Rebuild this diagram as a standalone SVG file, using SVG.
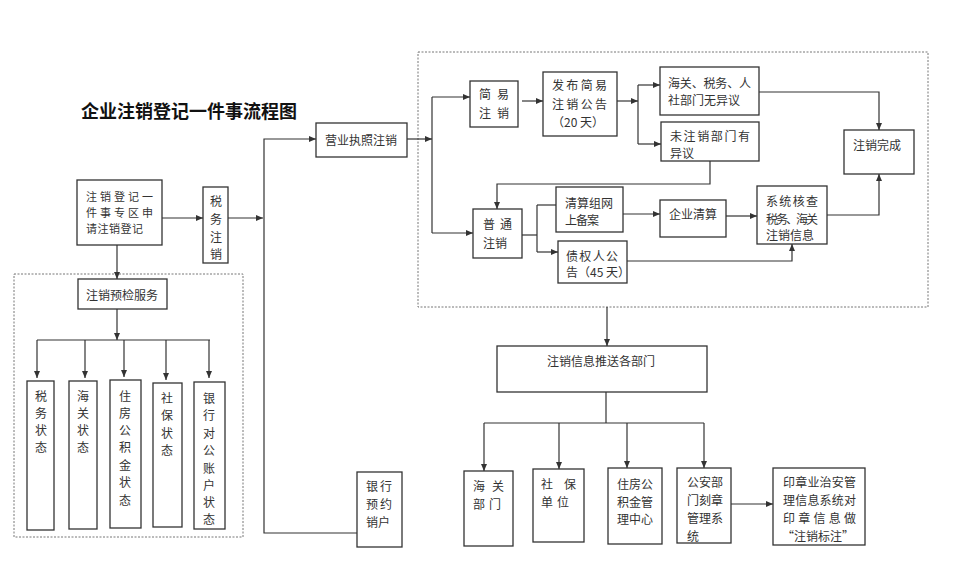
<svg xmlns="http://www.w3.org/2000/svg" width="954" height="586" viewBox="0 0 954 586">
<style>
.box{fill:#fff;stroke:#333;stroke-width:1.3}
.ln{fill:none;stroke:#333;stroke-width:1.2}
.dash{fill:none;stroke:#777;stroke-width:1;stroke-dasharray:2 1.5}
text{font-family:"Noto Sans CJK SC","Noto Sans CJK JP",sans-serif;font-size:12px;fill:#333;dominant-baseline:central}
.v{text-anchor:middle}
.sm{font-size:11px}
.title{font-size:18px;font-weight:bold;fill:#111}
</style>
<defs>
<marker id="ar" markerUnits="userSpaceOnUse" markerWidth="7" markerHeight="6" refX="7" refY="3" orient="auto">
<path d="M0,0 L7,3 L0,6 z" fill="#333"/>
</marker>
</defs>
<rect width="954" height="586" fill="#fff"/>
<text class="title" x="81" y="110">企业注销登记一件事流程图</text>
<rect class="dash" x="418" y="52" width="510" height="255"/>
<rect class="dash" x="14" y="274" width="229" height="263"/>
<g id="connectors" class="ln">
<path d="M162,218 H203" marker-end="url(#ar)"/>
<path d="M228,218 H263" marker-end="url(#ar)"/>
<path d="M357,533 H264 V139 H316" marker-end="url(#ar)"/>
<path d="M407,139 H432" marker-end="url(#ar)"/>
<path d="M432,97 V233"/>
<path d="M432,97 H470" marker-end="url(#ar)"/>
<path d="M432,233 H473" marker-end="url(#ar)"/>
<path d="M522,101 H543" marker-end="url(#ar)"/>
<path d="M617,101 H638" marker-end="url(#ar)"/>
<path d="M638,85 V144"/>
<path d="M638,85 H660" marker-end="url(#ar)"/>
<path d="M638,144 H661" marker-end="url(#ar)"/>
<path d="M759,92 H879 V130" marker-end="url(#ar)"/>
<path d="M710,161 V184 H497 V209" marker-end="url(#ar)"/>
<path d="M522,235 H537"/>
<path d="M537,205 V252"/>
<path d="M537,205 H556"/>
<path d="M537,252 H558" marker-end="url(#ar)"/>
<path d="M623,214 H660" marker-end="url(#ar)"/>
<path d="M726,216 H757" marker-end="url(#ar)"/>
<path d="M627,261 H792 V244" marker-end="url(#ar)"/>
<path d="M827,215 H879 V174" marker-end="url(#ar)"/>
<path d="M607,307 V346" marker-end="url(#ar)"/>
<path d="M606,392 V423"/>
<path d="M484,423 H704"/>
<path d="M484,423 V471" marker-end="url(#ar)"/>
<path d="M559,423 V469" marker-end="url(#ar)"/>
<path d="M627,423 V468" marker-end="url(#ar)"/>
<path d="M704,423 V468" marker-end="url(#ar)"/>
<path d="M731,504 H773" marker-end="url(#ar)"/>
<path d="M117,245 V279" marker-end="url(#ar)"/>
<path d="M117,309 V340" marker-end="url(#ar)"/>
<path d="M37,340 H210"/>
<path d="M37,340 V378" marker-end="url(#ar)"/>
<path d="M85,340 V378" marker-end="url(#ar)"/>
<path d="M124,340 V377" marker-end="url(#ar)"/>
<path d="M166,340 V380" marker-end="url(#ar)"/>
<path d="M209,340 V378" marker-end="url(#ar)"/>
</g>
<g id="reg"><rect class="box" x="77" y="180" width="85" height="65"/>
<text class="sm" x="86" y="196" textLength="67" lengthAdjust="spacing">注销登记一</text>
<text class="sm" x="86" y="212" textLength="67" lengthAdjust="spacing">件事专区申</text>
<text class="sm" x="86" y="228" textLength="57" lengthAdjust="spacing">请注销登记</text></g>
<g id="tax"><rect class="box" x="203" y="187" width="25" height="76"/>
<text class="v"><tspan x="216" y="200">税</tspan><tspan x="216" y="218">务</tspan><tspan x="216" y="236">注</tspan><tspan x="216" y="253">销</tspan></text></g>
<g id="license"><rect class="box" x="316" y="123" width="91" height="34"/>
<text class="v" x="361" y="139">营业执照注销</text></g>
<g id="bank"><rect class="box" x="357" y="472" width="45" height="75"/>
<text x="366" y="485" textLength="26" lengthAdjust="spacing">银行</text>
<text x="366" y="503" textLength="26" lengthAdjust="spacing">预约</text>
<text x="366" y="521">销户</text></g>
<g id="simple"><rect class="box" x="470" y="81" width="48" height="46"/>
<text x="479" y="93" textLength="30" lengthAdjust="spacing">简易</text>
<text x="479" y="112" textLength="30" lengthAdjust="spacing">注销</text></g>
<g id="announce"><rect class="box" x="543" y="72" width="74" height="64"/>
<text x="552" y="84" textLength="55" lengthAdjust="spacing">发布简易</text>
<text x="552" y="103" textLength="55" lengthAdjust="spacing">注销公告</text>
<text x="552" y="121">（20 天）</text></g>
<g id="noobj"><rect class="box" x="660" y="67" width="99" height="48"/>
<text x="668" y="82" textLength="83" lengthAdjust="spacing">海关、税务、人</text>
<text x="668" y="99">社部门无异议</text></g>
<g id="obj"><rect class="box" x="661" y="122" width="98" height="39"/>
<text x="670" y="135" textLength="80" lengthAdjust="spacing">未注销部门有</text>
<text x="670" y="152">异议</text></g>
<g id="normal"><rect class="box" x="473" y="209" width="49" height="49"/>
<text x="483" y="223" textLength="29" lengthAdjust="spacing">普通</text>
<text x="483" y="242">注销</text></g>
<g id="filing"><rect class="box" x="556" y="187" width="67" height="45"/>
<text x="565" y="202" textLength="48" lengthAdjust="spacing">清算组网</text>
<text x="565" y="219" textLength="34" lengthAdjust="spacing">上备案</text></g>
<g id="liquid"><rect class="box" x="660" y="200" width="66" height="37"/>
<text x="669" y="213">企业清算</text></g>
<g id="creditor"><rect class="box" x="558" y="241" width="69" height="42"/>
<text x="566" y="255" textLength="52" lengthAdjust="spacing">债权人公</text>
<text x="566" y="271">告（45 天）</text></g>
<g id="syscheck"><rect class="box" x="757" y="186" width="70" height="58"/>
<text x="766" y="200" textLength="52" lengthAdjust="spacing">系统核查</text>
<text x="766" y="218" textLength="52" lengthAdjust="spacing">税务、海关</text>
<text x="766" y="234">注销信息</text></g>
<g id="done"><rect class="box" x="844" y="130" width="70" height="44"/>
<text x="853" y="144">注销完成</text></g>
<g id="push"><rect class="box" x="497" y="346" width="210" height="46"/>
<text class="v" x="601" y="360">注销信息推送各部门</text></g>
<g id="customs"><rect class="box" x="464" y="471" width="49" height="75"/>
<text x="473" y="485" textLength="31" lengthAdjust="spacing">海关</text>
<text x="473" y="503" textLength="28" lengthAdjust="spacing">部门</text></g>
<g id="social"><rect class="box" x="533" y="469" width="51" height="73"/>
<text x="541" y="483" textLength="35" lengthAdjust="spacing">社保</text>
<text x="541" y="501" textLength="28" lengthAdjust="spacing">单位</text></g>
<g id="fund"><rect class="box" x="608" y="468" width="54" height="76"/>
<text x="617" y="483">住房公</text>
<text x="617" y="501">积金管</text>
<text x="617" y="518">理中心</text></g>
<g id="police"><rect class="box" x="677" y="468" width="54" height="75"/>
<text x="687" y="481">公安部</text>
<text x="687" y="499">门刻章</text>
<text x="687" y="517">管理系</text>
<text x="687" y="535">统</text></g>
<g id="seal"><rect class="box" x="773" y="468" width="92" height="77"/>
<text x="783" y="481" textLength="73" lengthAdjust="spacing">印章业治安管</text>
<text x="783" y="499" textLength="73" lengthAdjust="spacing">理信息系统对</text>
<text x="783" y="517" textLength="73" lengthAdjust="spacing">印章信息做</text>
<text class="v" x="818" y="535">“注销标注”</text></g>
<g id="precheck"><rect class="box" x="78" y="279" width="89" height="30"/>
<text class="v" x="122" y="294">注销预检服务</text></g>
<g id="s-tax"><rect class="box" x="27" y="381" width="27" height="149"/>
<text class="v"><tspan x="41" y="395">税</tspan><tspan x="41" y="412">务</tspan><tspan x="41" y="429">状</tspan><tspan x="41" y="446">态</tspan></text></g>
<g id="s-customs"><rect class="box" x="69" y="381" width="28" height="148"/>
<text class="v"><tspan x="83" y="395">海</tspan><tspan x="83" y="412">关</tspan><tspan x="83" y="429">状</tspan><tspan x="83" y="446">态</tspan></text></g>
<g id="s-fund"><rect class="box" x="110" y="380" width="31" height="148"/>
<text class="v"><tspan x="125" y="395">住</tspan><tspan x="125" y="412">房</tspan><tspan x="125" y="429">公</tspan><tspan x="125" y="446">积</tspan><tspan x="125" y="464">金</tspan><tspan x="125" y="481">状</tspan><tspan x="125" y="499">态</tspan></text></g>
<g id="s-social"><rect class="box" x="153" y="383" width="29" height="144"/>
<text class="v"><tspan x="167" y="397">社</tspan><tspan x="167" y="414">保</tspan><tspan x="167" y="432">状</tspan><tspan x="167" y="449">态</tspan></text></g>
<g id="s-bank"><rect class="box" x="194" y="382" width="31" height="147"/>
<text class="v"><tspan x="209" y="397">银</tspan><tspan x="209" y="414">行</tspan><tspan x="209" y="432">对</tspan><tspan x="209" y="449">公</tspan><tspan x="209" y="467">账</tspan><tspan x="209" y="484">户</tspan><tspan x="209" y="501">状</tspan><tspan x="209" y="518">态</tspan></text></g>
</svg>
